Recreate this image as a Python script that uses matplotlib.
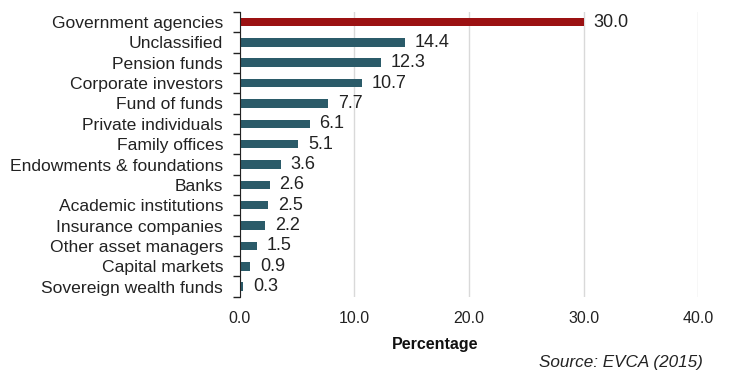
import numpy as np
import matplotlib
matplotlib.use('Agg')
from matplotlib import pyplot as plt

categories = ['Government agencies', 'Unclassified', 'Pension funds', 'Corporate investors',
              'Fund of funds', 'Private individuals', 'Family offices', 'Endowments & foundations',
              'Banks', 'Academic institutions', 'Insurance companies', 'Other asset managers',
              'Capital markets', 'Sovereign wealth funds']
values = [30.0, 14.4, 12.3, 10.7, 7.7, 6.1, 5.1, 3.6, 2.6, 2.5, 2.2, 1.5, 0.9, 0.3]
x_ticks = [0, 10, 20, 30, 40]

plt.rcParams['font.family'] = ['Liberation Sans', 'DejaVu Sans']

fig = plt.figure(figsize=(7.31, 3.71), dpi=100)
ax = fig.add_axes([0.328, 0.2, 0.627, 0.768])

y = np.arange(len(categories))
colors = ['#9b1112'] + ['#2b5b69'] * (len(categories) - 1)
ax.barh(y, values, height=0.42, color=colors, zorder=3)

for yi, v in zip(y, values):
    ax.annotate(f'{v:.1f}', (v, yi), xytext=(7, 0), textcoords='offset points',
                va='center', ha='left', fontsize=13, color='#222222')

ax.set_ylim(len(categories) - 0.5, -0.5)
ax.set_xlim(0, 40)
ax.set_yticks(y)
ax.set_yticklabels(categories, fontsize=12.6, color='#222222')
ax.tick_params(axis='y', which='major', length=0, pad=12)
ax.set_yticks(np.arange(-0.5, len(categories)), minor=True)
ax.tick_params(axis='y', which='minor', length=5, width=1, color='#222222')

ax.set_xticks(x_ticks)
ax.set_xticklabels([f'{t:.1f}' for t in x_ticks], fontsize=11.5, color='#222222')
ax.tick_params(axis='x', length=0, pad=10)
ax.grid(axis='x', color='#d9d9d9', linewidth=1, zorder=0)

for s in ['top', 'right', 'bottom']:
    ax.spines[s].set_visible(False)
ax.spines['left'].set_color('#222222')
ax.spines['left'].set_zorder(4)

fig.text(435 / 731, 1 - 344 / 371, 'Percentage', ha='center', va='center',
         fontsize=11.5, fontweight='bold', color='#111111')
fig.text(703 / 731, 1 - 362 / 371, 'Source: EVCA (2015)', ha='right', va='center',
         fontsize=12.3, style='italic', color='#222222')

fig.savefig('out.png', dpi=100)
